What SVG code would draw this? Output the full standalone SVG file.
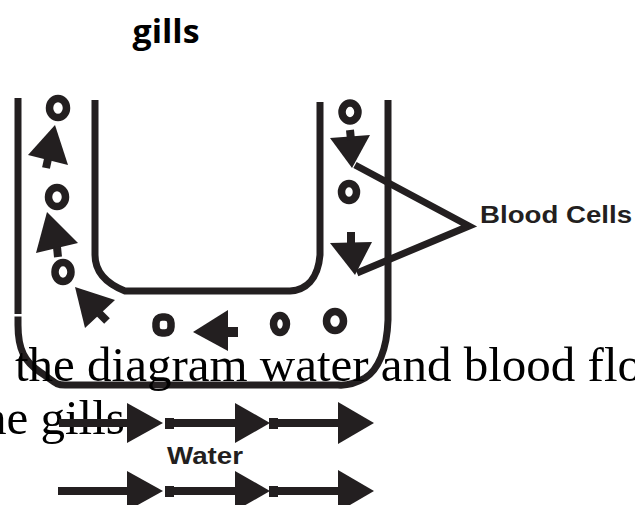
<svg xmlns="http://www.w3.org/2000/svg" width="635" height="505" viewBox="0 0 635 505">
<defs>
<style>
.wall{fill:none;stroke:#231f20;stroke-width:7;stroke-linecap:butt;stroke-linejoin:round}
.cell{fill:none;stroke:#231f20;stroke-width:7.5}
.head{fill:#231f20;stroke:none}
.stem{stroke:#231f20;stroke-width:8;stroke-linecap:butt}
.lead{fill:none;stroke:#231f20;stroke-width:7;stroke-linejoin:miter}
.shaft{stroke:#231f20;stroke-width:8}
.lbl{font-family:"Liberation Sans",Arial,sans-serif;font-weight:bold;fill:#231f20}
.body{font-family:"Liberation Serif","Times New Roman",serif;font-size:49px;fill:#000}
</style>
</defs>
<rect width="635" height="505" fill="#fff"/>

<g id="title">
<text x="166" y="43" text-anchor="middle" font-family="'Open Sans',sans-serif" font-weight="bold" font-size="33" textLength="67" lengthAdjust="spacingAndGlyphs">gills</text>
</g>

<g id="gill-structure">
<path class="wall" d="M18,98 V314"/>
<path class="wall" d="M18,316.5 V325 C18,350 25,362 40,372 S55,385 65,385 H338 C350,386 358,382 365,378 C378,370 387,350 388,320 V100"/>
<path class="wall" d="M95,100 V255 C95,275 110,285 125,291 H290 C305,290 318,280 320,255 V102"/>
</g>

<g id="blood-cells">
<ellipse class="cell" cx="58" cy="108" rx="8.5" ry="9.5"/>
<ellipse class="cell" cx="57" cy="197" rx="8.5" ry="9.5"/>
<ellipse class="cell" cx="63" cy="272" rx="8" ry="9.5"/>
<rect class="cell" x="156" y="317" width="15" height="16" rx="6"/>
<ellipse class="cell" cx="280" cy="324" rx="6.5" ry="8.5"/>
<ellipse class="cell" cx="335" cy="321" rx="8.5" ry="9.5"/>
<ellipse class="cell" cx="350" cy="112" rx="8" ry="9"/>
<ellipse class="cell" cx="349" cy="192" rx="7.5" ry="8.5"/>
</g>

<g id="blood-flow-arrows">
<polygon class="head" points="55,125 28,155 68,165"/>
<line class="stem" x1="48" y1="159" x2="46" y2="168"/>
<polygon class="head" points="47,212 36,253 78,243"/>
<line class="stem" x1="57" y1="247" x2="58" y2="257"/>
<polygon class="head" points="75,287 85,328 115,300"/>
<line class="stem" x1="99" y1="313" x2="107" y2="321"/>
<polygon class="head" points="193,332 228,310 228,351"/>
<line class="stem" x1="227" y1="332" x2="238" y2="332" style="stroke-width:10"/>
<polygon class="head" points="330,138 370,135 352,168"/>
<line class="stem" x1="350" y1="130" x2="351" y2="140"/>
<polygon class="head" points="330,243 372,242 355,275"/>
<line class="stem" x1="351" y1="232" x2="351" y2="244"/>
</g>

<g id="connectors">
<polyline class="lead" points="355,165 469,226 357,273"/>
</g>

<g id="label-blood-cells">
<text class="lbl" x="480" y="223" font-size="23" textLength="152" lengthAdjust="spacingAndGlyphs">Blood Cells</text>
</g>

<g id="body-text">
<text class="body" x="15" y="381" textLength="627" lengthAdjust="spacingAndGlyphs">the diagram water and blood flo</text>
<text class="body" x="-18" y="434">he gills.</text>
</g>

<g id="water-arrows">
<line class="shaft" x1="59" y1="423" x2="130" y2="423"/>
<polygon class="head" points="127,403 163,423 127,443"/>
<rect class="head" x="165" y="418" width="9" height="11"/>
<line class="shaft" x1="166" y1="423" x2="237" y2="423"/>
<polygon class="head" points="235,403 270,423 235,443"/>
<rect class="head" x="269" y="418" width="9" height="11"/>
<line class="shaft" x1="270" y1="423" x2="340" y2="423"/>
<polygon class="head" points="338,402 374,423 338,444"/>

<line class="shaft" x1="58" y1="491" x2="130" y2="491"/>
<polygon class="head" points="127,471 163,491 127,511"/>
<rect class="head" x="165" y="486" width="9" height="11"/>
<line class="shaft" x1="166" y1="491" x2="237" y2="491"/>
<polygon class="head" points="235,471 270,491 235,511"/>
<rect class="head" x="269" y="486" width="9" height="11"/>
<line class="shaft" x1="270" y1="491" x2="340" y2="491"/>
<polygon class="head" points="338,470 374,491 338,512"/>
</g>

<g id="label-water">
<text class="lbl" x="167" y="464" font-size="23" textLength="76" lengthAdjust="spacingAndGlyphs">Water</text>
</g>
</svg>
